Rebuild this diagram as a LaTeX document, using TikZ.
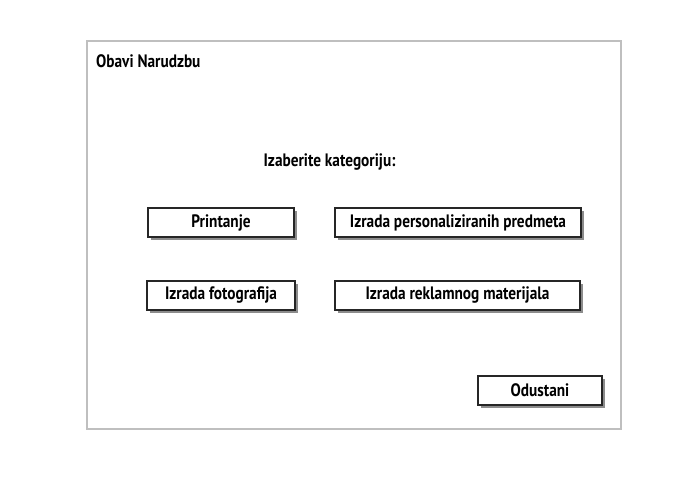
\documentclass[tikz,border=0pt]{standalone}
\usepackage{fontspec}
\setmainfont[FakeStretch=0.85]{PT Sans}
\tikzset{
  lbl/.style={font=\fontsize{18pt}{20pt}\selectfont\bfseries, inner sep=0pt},
  btn/.style={draw=black!85, line width=1.3pt, fill=white, inner sep=0pt,
    font=\fontsize{18pt}{20pt}\selectfont\bfseries},
  shadowbox/.style={fill=black!45}
}
\begin{document}
\begin{tikzpicture}[x=1pt,y=-1pt]
\useasboundingbox[fill=white] (0,0) rectangle (692,481);
\draw[draw=black!25, line width=2pt] (87,41) rectangle (621,429);
\node[lbl, anchor=west] (title) at (96,61) {Obavi Narudzbu};
\node[lbl] (prompt) at (329.5,162) {Izaberite kategoriju:};
\foreach \nm/\xa/\ya/\xb/\yb/\txt in {
  b1/148/208/294/237/Printanje,
  b2/335/208/581/237/Izrada personaliziranih predmeta,
  b3/147/281/295/310/Izrada fotografija,
  b4/335/281/580/310/Izrada reklamnog materijala,
  b5/478/376/602/405/Odustani}{
  \fill[shadowbox] (\xa+2.5,\ya+2.5) rectangle (\xb+2.5,\yb+2.5);
  \node[btn, minimum width=\xb-\xa, minimum height=\yb-\ya] (\nm) at ({(\xa+\xb)/2},{(\ya+\yb)/2}) {\txt};
}
\end{tikzpicture}
\end{document}
